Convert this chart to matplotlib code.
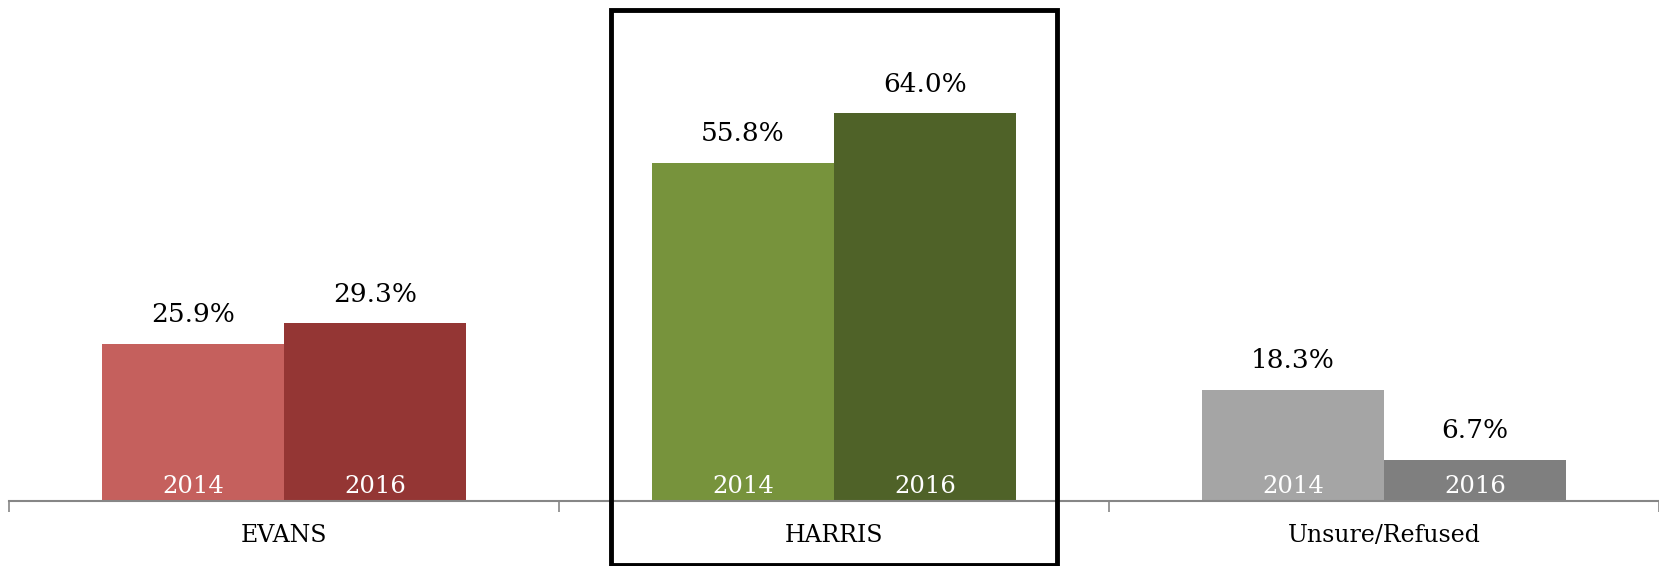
import matplotlib
matplotlib.use("Agg")
import matplotlib.pyplot as plt
import matplotlib.transforms as mtransforms
from matplotlib.patches import Rectangle
import numpy as np

categories = ["EVANS", "HARRIS", "Unsure/Refused"]
years = ["2014", "2016"]
values_2014 = [25.9, 55.8, 18.3]
values_2016 = [29.3, 64.0, 6.7]
colors_2014 = ["#C5605D", "#77933C", "#A5A5A5"]
colors_2016 = ["#943634", "#4F6228", "#7F7F7F"]
highlight = "HARRIS"

W, H = 1659, 566
fig = plt.figure(figsize=(W / 100, H / 100), dpi=100)
ax = fig.add_axes([9 / W, 65.5 / H, 1 - 9 / W, 484 / H])
font = "DejaVu Serif"

x = np.arange(len(categories))
bw = 0.331
b1 = ax.bar(x - bw / 2, values_2014, bw, color=colors_2014, linewidth=0)
b2 = ax.bar(x + bw / 2, values_2016, bw, color=colors_2016, linewidth=0)

for bars, vals in ((b1, values_2014), (b2, values_2016)):
    for rect, v in zip(bars, vals):
        cx = rect.get_x() + rect.get_width() / 2
        ax.annotate(f"{v:.1f}%", (cx, v), xytext=(0, 12), textcoords="offset points",
                    ha="center", va="bottom", fontsize=19, family=font, color="black")
for bars, yr in ((b1, years[0]), (b2, years[1])):
    for rect in bars:
        cx = rect.get_x() + rect.get_width() / 2
        ax.annotate(yr, (cx, 0), xytext=(0, 10), textcoords="offset points",
                    ha="center", va="center", fontsize=17.5, family=font, color="white")

ax.set_xlim(-0.5, len(categories) - 0.5)
ax.set_ylim(0, 80)
ax.set_yticks([])
for s in ("left", "right", "top"):
    ax.spines[s].set_visible(False)
ax.spines["bottom"].set_color("#868686")
ax.spines["bottom"].set_linewidth(1.5)
ax.set_xticks(np.arange(-0.5, len(categories)), minor=False)
ax.set_xticklabels([])
ax.tick_params(axis="x", length=8, width=1.2, color="#868686")
for i, c in enumerate(categories):
    ax.annotate(c, (i, 0), xytext=(0, -25.5), textcoords="offset points",
                ha="center", va="center", fontsize=17, family=font, color="black")

hi = categories.index(highlight)
trans = mtransforms.blended_transform_factory(ax.transData, fig.transFigure)
box = Rectangle((hi - 0.406, 1 / H), 0.812, (H - 11) / H, transform=trans,
                fill=False, edgecolor="black", linewidth=3.5, clip_on=False)
fig.add_artist(box)

fig.savefig("out.png", dpi=100)
